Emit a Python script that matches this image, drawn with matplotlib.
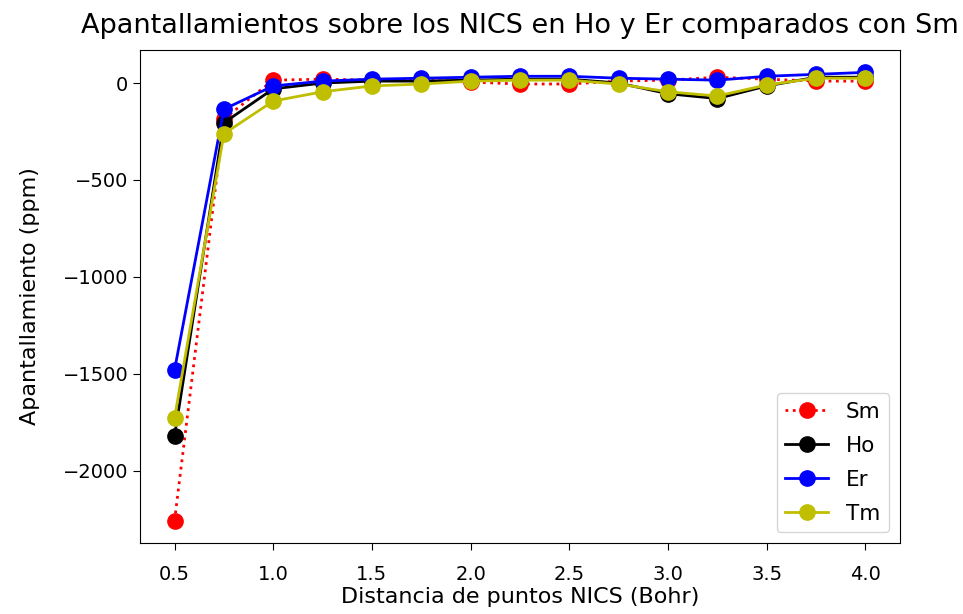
import matplotlib
matplotlib.use('Agg')
import matplotlib.pyplot as plt

# Distancias NICS (Bohr)
dist = [0.5, 0.75, 1.0, 1.25, 1.5, 1.75, 2.0, 2.25, 2.5, 2.75, 3.0, 3.25, 3.5, 3.75, 4.0]

# Apantallamiento (ppm)
sm = [-2258, -185, 15, 20, 15, 15, 5, -5, -5, 10, 15, 30, 20, 10, 10]
ho = [-1820, -205, -30, 0, 10, 10, 15, 20, 20, 0, -55, -80, -15, 30, 30]
er = [-1480, -135, -15, 10, 20, 25, 30, 35, 35, 25, 20, 15, 35, 45, 55]
tm = [-1728, -262, -93, -45, -15, -5, 10, 15, 15, -5, -45, -67, -10, 25, 25]

fig = plt.figure(figsize=(9.63, 6.14), dpi=100)
ax = fig.add_axes([0.1454, 0.1156, 0.789, 0.803])

ax.plot(dist, sm, 'r:o', label='Sm', linewidth=2, markersize=11)
ax.plot(dist, ho, 'k-o', label='Ho', linewidth=2, markersize=11)
ax.plot(dist, er, 'b-o', label='Er', linewidth=2, markersize=11)
ax.plot(dist, tm, 'y-o', label='Tm', linewidth=2, markersize=11)

ax.set_title('Apantallamientos sobre los NICS en Ho y Er comparados con Sm', fontsize=19.5, pad=12)
ax.set_xlabel('Distancia de puntos NICS (Bohr)', fontsize=16, labelpad=2)
ax.set_ylabel('Apantallamiento (ppm)', fontsize=16, labelpad=16)
ax.tick_params(labelsize=14, length=5)
ax.tick_params(axis='x', pad=11)
ax.set_xticks([0.5, 1.0, 1.5, 2.0, 2.5, 3.0, 3.5, 4.0])
ax.legend(loc='lower right', fontsize=15.5, labelspacing=0.65)

fig.savefig('out.png', dpi=100)
